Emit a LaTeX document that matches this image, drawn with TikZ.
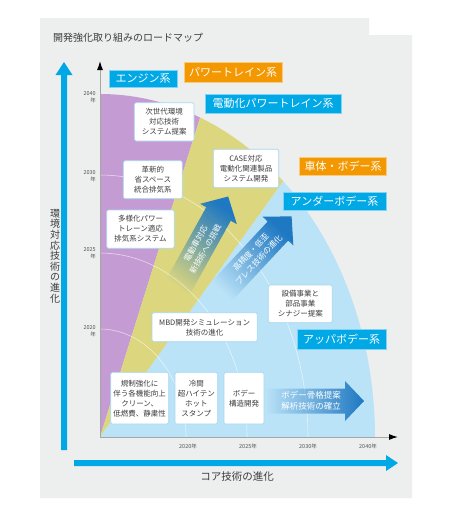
\documentclass[tikz,border=0pt]{standalone}
\usepackage{fontspec}
\setmainfont{Noto Sans CJK JP}
\usetikzlibrary{fadings,arrows.meta}
\definecolor{bg}{HTML}{EDEEEE}
\definecolor{purp}{HTML}{C49CD3}
\definecolor{yel}{HTML}{DCD67E}
\definecolor{lblue}{HTML}{BBE3F8}
\definecolor{cyanb}{HTML}{00A8E6}
\definecolor{orng}{HTML}{F39800}
\definecolor{darr}{HTML}{1E78C2}
\definecolor{boxline}{HTML}{A6D7F0}
\definecolor{txt}{HTML}{3C3C3C}
\definecolor{yeartxt}{HTML}{555555}
\tikzfading[name=tailfade, left color=transparent!100, right color=transparent!0]
\begin{document}
\begin{tikzpicture}[x=1pt,y=-1pt,
  infobox/.style={draw=boxline, line width=0.7pt, fill=white, rounded corners=1.5pt,
    align=center, font=\fontsize{7.5}{10}\selectfont, text=txt, inner sep=0pt},
  cyantag/.style={fill=cyanb, draw=cyanb!50!white, line width=0.6pt, text=white,
    font=\fontsize{11}{13}\selectfont, inner sep=0pt},
  orangetag/.style={fill=orng, draw=orng!50!white, line width=0.6pt, text=white,
    font=\fontsize{11}{13}\selectfont, inner sep=0pt},
  yearlbl/.style={font=\fontsize{5.5}{7}\selectfont, text=yeartxt, inner sep=0pt},
  arrtext/.style={text=white, align=center, font=\fontsize{8}{11}\selectfont, inner sep=0pt},
  faint/.style={white, opacity=0.6, line width=0.6pt}
]
\useasboundingbox (0,0) rectangle (452,512);
\fill[white] (0,0) rectangle (452,512);
\fill[bg] (40,18) -- (369,18) -- (369,35) -- (412,35) -- (412,498) -- (40,498) -- cycle;

% title
\node[anchor=west, font=\fontsize{10}{12}\selectfont, text=txt, inner sep=0pt] (title) at (53,38) {開発強化取り組みのロードマップ};

% sectors
\fill[purp] (100,437) -- plot[domain=90:68.65,samples=40] ({100+275*cos(\x)},{437-343*sin(\x)}) -- cycle;
\fill[yel] (100,437) -- plot[domain=68.65:48.2,samples=40] ({100+275*cos(\x)},{437-343*sin(\x)}) -- cycle;
\fill[lblue] (100,437) -- plot[domain=48.2:0,samples=60] ({100+275*cos(\x)},{437-343*sin(\x)}) -- cycle;

% faint year arcs
\draw[faint] plot[domain=0:90,samples=40] ({100+86*cos(\x)},{437-108*sin(\x)});
\draw[faint] plot[domain=0:90,samples=40] ({100+147*cos(\x)},{437-184*sin(\x)});
\draw[faint] plot[domain=0:90,samples=40] ({100+208*cos(\x)},{437-262*sin(\x)});

% axes
\coordinate (O) at (100,437);
\coordinate (ytop) at (100,61);
\coordinate (xend) at (398,437);
\draw[gray!70, line width=1pt, -{Latex[length=9pt,width=6pt,color=black]}] (O) -- (ytop);
\draw[gray!70, line width=1pt, -{Latex[length=9pt,width=6pt,color=black]}] (O) -- (xend);

% year labels
\node[yearlbl, align=right, anchor=east] (y2040) at (96,97) {2040\\年};
\node[yearlbl, align=right, anchor=east] (y2030) at (96,176) {2030\\年};
\node[yearlbl, align=right, anchor=east] (y2025) at (96,253) {2025\\年};
\node[yearlbl, align=right, anchor=east] (y2020) at (96,331) {2020\\年};
\node[yearlbl] (x2020) at (188,446) {2020年};
\node[yearlbl] (x2025) at (248,446) {2025年};
\node[yearlbl] (x2030) at (308,446) {2030年};
\node[yearlbl] (x2040) at (368,446) {2040年};

% big cyan arrows
\fill[cyanb] (61,450) -- (61,75) -- (55.5,75) -- (64,62) -- (72.5,75) -- (67,75) -- (67,450) -- cycle;
\fill[cyanb] (74,460) -- (386,460) -- (386,455) -- (398,463) -- (386,471) -- (386,466) -- (74,466) -- cycle;
\node[font=\fontsize{10}{10.6}\selectfont, text=txt, align=center, inner sep=0pt] (vlabel) at (55,256) {環\\境\\対\\応\\技\\術\\の\\進\\化};
\node[font=\fontsize{10.5}{12}\selectfont, text=txt, inner sep=0pt] (hlabel) at (237,477) {コア技術の進化};

% gradient arrows A and B
\begin{scope}[shift={(176.3,290.1)}, rotate=61]
  \coordinate (a1) at (0,-14); \coordinate (a2) at (87,-14); \coordinate (a3) at (87,-21);
  \coordinate (a4) at (107,0); \coordinate (a5) at (87,21); \coordinate (a6) at (87,14);
  \coordinate (a7) at (0,14); \coordinate (atxt) at (50,0);
\end{scope}
\begin{scope}[shift={(219.3,293.9)}, rotate=47]
  \coordinate (b1) at (0,-14); \coordinate (b2) at (86,-14); \coordinate (b3) at (86,-21);
  \coordinate (b4) at (106,0); \coordinate (b5) at (86,21); \coordinate (b6) at (86,14);
  \coordinate (b7) at (0,14); \coordinate (btxt) at (52,0);
\end{scope}
\fill[darr, path fading=tailfade, fading angle=61] (a1) -- (a2) -- (a3) -- (a4) -- (a5) -- (a6) -- (a7) -- cycle;
\fill[darr, path fading=tailfade, fading angle=47] (b1) -- (b2) -- (b3) -- (b4) -- (b5) -- (b6) -- (b7) -- cycle;
\node[arrtext, rotate=61] (arrA) at (atxt) {電動車対応\\新技術への挑戦};
\node[arrtext, rotate=47] (arrB) at (btxt) {高精度・低歪\\プレス技術の進化};

% horizontal gradient arrow C
\fill[darr, path fading=tailfade] (265,388.5) -- (345,388.5) -- (345,381) -- (364,401) -- (345,421) -- (345,413.5) -- (265,413.5) -- cycle;
\node[arrtext, font=\fontsize{8.5}{11}\selectfont] (arrC) at (311,400.5) {ボデー骨格提案\\解析技術の確立};

% info boxes
\node[infobox, minimum width=59.7pt, minimum height=38.3pt] (bx1) at (164.15,121.85) {次世代環境\\対応技術\\システム提案};
\node[infobox, minimum width=59pt, minimum height=38pt] (bx2) at (152.8,179.7) {革新的\\省スペース\\統合排気系};
\node[infobox, minimum width=67.6pt, minimum height=38.3pt] (bx3) at (140.5,229.15) {多様化パワー\\トレーン適応\\排気系システム};
\node[infobox, minimum width=65.4pt, minimum height=38.4pt] (bx4) at (246,168.5) {CASE対応\\電動化関連製品\\システム開発};
\node[infobox, minimum width=64pt, minimum height=37.7pt] (bx5) at (300.3,303.85) {設備事業と\\部品事業\\シナジー提案};
\node[infobox, minimum width=105.3pt, minimum height=29pt] (bx6) at (204.65,327.2) {MBD開発シミュレーション\\技術の進化};
\node[infobox, minimum width=58pt, minimum height=51.7pt] (bx7) at (139.7,398.15) {規制強化に\\伴う各機能向上\\クリーン、\\低燃費、静粛性};
\node[infobox, minimum width=42.7pt, minimum height=51.7pt] (bx8) at (196.35,398.15) {冷間\\超ハイテン\\ホット\\スタンプ};
\node[infobox, minimum width=40pt, minimum height=51.7pt] (bx9) at (244,398.15) {ボデー\\構造開発};

% category tags
\node[cyantag, minimum width=68pt, minimum height=17pt] (tEngine) at (143,78.5) {エンジン系};
\node[orangetag, minimum width=98pt, minimum height=20pt] (tPT) at (233,72) {パワートレイン系};
\node[cyantag, minimum width=136pt, minimum height=19pt] (tEPT) at (273,103.8) {電動化パワートレイン系};
\node[orangetag, minimum width=87pt, minimum height=18pt] (tBody) at (343,166) {車体・ボデー系};
\node[cyantag, minimum width=103pt, minimum height=18pt] (tUnder) at (334.5,201.6) {アンダーボデー系};
\node[cyantag, minimum width=89pt, minimum height=20pt] (tUpper) at (341.5,339) {アッパボデー系};
\end{tikzpicture}
\end{document}
